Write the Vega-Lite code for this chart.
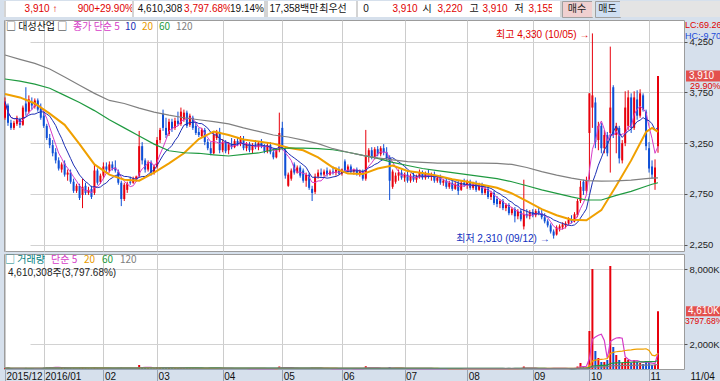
{
"$schema": "https://vega.github.io/schema/vega-lite/v6.json",
"padding": 0,
"background": "#d6e0ec",
"spacing": 1,
"config": {"view": {"fill": "white", "stroke": "#9c9c9c"}, "font": "Liberation Sans, Noto Sans CJK KR"},
"resolve": {"scale": {"color": "independent", "x": "independent", "y": "independent"}, "legend": {"color": "independent"}},
"datasets": {
"candles": [
{"d":"2015-12-11","o":3500,"h":3700,"l":3480,"c":3660,"v":60000},
{"d":"2015-12-14","o":3620,"h":3640,"l":3420,"c":3450,"v":70000},
{"d":"2015-12-15","o":3450,"h":3480,"l":3380,"c":3400,"v":50000},
{"d":"2015-12-16","o":3400,"h":3470,"l":3380,"c":3450,"v":45000},
{"d":"2015-12-17","o":3440,"h":3520,"l":3420,"c":3500,"v":55000},
{"d":"2015-12-18","o":3480,"h":3500,"l":3400,"c":3430,"v":40000},
{"d":"2015-12-21","o":3430,"h":3620,"l":3420,"c":3600,"v":65000},
{"d":"2015-12-22","o":3640,"h":3800,"l":3520,"c":3560,"v":90000},
{"d":"2015-12-23","o":3560,"h":3720,"l":3540,"c":3680,"v":60000},
{"d":"2015-12-24","o":3650,"h":3700,"l":3580,"c":3620,"v":45000},
{"d":"2015-12-28","o":3610,"h":3690,"l":3590,"c":3670,"v":40000},
{"d":"2015-12-29","o":3670,"h":3690,"l":3560,"c":3580,"v":45000},
{"d":"2015-12-30","o":3600,"h":3640,"l":3480,"c":3500,"v":50000},
{"d":"2016-01-04","o":3520,"h":3560,"l":3400,"c":3420,"v":110000},
{"d":"2016-01-05","o":3420,"h":3440,"l":3280,"c":3300,"v":130000},
{"d":"2016-01-06","o":3300,"h":3340,"l":3200,"c":3230,"v":150000},
{"d":"2016-01-07","o":3230,"h":3280,"l":3120,"c":3150,"v":140000},
{"d":"2016-01-08","o":3160,"h":3200,"l":3050,"c":3080,"v":120000},
{"d":"2016-01-11","o":3080,"h":3110,"l":2980,"c":3000,"v":110000},
{"d":"2016-01-12","o":2990,"h":3060,"l":2960,"c":3040,"v":90000},
{"d":"2016-01-13","o":3050,"h":3080,"l":2920,"c":2940,"v":80000},
{"d":"2016-01-14","o":2940,"h":2990,"l":2880,"c":2960,"v":70000},
{"d":"2016-01-15","o":2960,"h":2990,"l":2850,"c":2870,"v":80000},
{"d":"2016-01-18","o":2870,"h":2900,"l":2760,"c":2780,"v":90000},
{"d":"2016-01-19","o":2780,"h":2850,"l":2760,"c":2830,"v":60000},
{"d":"2016-01-20","o":2830,"h":2850,"l":2690,"c":2710,"v":100000},
{"d":"2016-01-21","o":2740,"h":2900,"l":2610,"c":2820,"v":130000},
{"d":"2016-01-22","o":2830,"h":2860,"l":2740,"c":2760,"v":70000},
{"d":"2016-01-25","o":2760,"h":2820,"l":2740,"c":2790,"v":50000},
{"d":"2016-01-26","o":2800,"h":2830,"l":2700,"c":2720,"v":60000},
{"d":"2016-01-27","o":2760,"h":3040,"l":2740,"c":2980,"v":120000},
{"d":"2016-01-28","o":2980,"h":3000,"l":2840,"c":2860,"v":80000},
{"d":"2016-01-29","o":2870,"h":2950,"l":2850,"c":2930,"v":60000},
{"d":"2016-02-01","o":2930,"h":3060,"l":2900,"c":3020,"v":70000},
{"d":"2016-02-02","o":3020,"h":3060,"l":2960,"c":2990,"v":50000},
{"d":"2016-02-03","o":2980,"h":3070,"l":2960,"c":3040,"v":55000},
{"d":"2016-02-04","o":3040,"h":3070,"l":2980,"c":3000,"v":45000},
{"d":"2016-02-05","o":3010,"h":3080,"l":2960,"c":2980,"v":50000},
{"d":"2016-02-11","o":2970,"h":2990,"l":2840,"c":2860,"v":90000},
{"d":"2016-02-12","o":2860,"h":2880,"l":2630,"c":2700,"v":110000},
{"d":"2016-02-15","o":2700,"h":2860,"l":2680,"c":2840,"v":70000},
{"d":"2016-02-16","o":2790,"h":2870,"l":2760,"c":2850,"v":50000},
{"d":"2016-02-17","o":2870,"h":2920,"l":2840,"c":2860,"v":40000},
{"d":"2016-02-18","o":2860,"h":2920,"l":2850,"c":2900,"v":40000},
{"d":"2016-02-19","o":2900,"h":2930,"l":2870,"c":2920,"v":45000},
{"d":"2016-02-22","o":2930,"h":3370,"l":2910,"c":3220,"v":320000},
{"d":"2016-02-23","o":3220,"h":3260,"l":3040,"c":3080,"v":150000},
{"d":"2016-02-24","o":3080,"h":3100,"l":2960,"c":2990,"v":90000},
{"d":"2016-02-25","o":2990,"h":3080,"l":2970,"c":3060,"v":60000},
{"d":"2016-02-26","o":3060,"h":3080,"l":2930,"c":2960,"v":50000},
{"d":"2016-02-29","o":2960,"h":3040,"l":2940,"c":3020,"v":45000},
{"d":"2016-03-02","o":3020,"h":3310,"l":3000,"c":3280,"v":150000},
{"d":"2016-03-03","o":3280,"h":3400,"l":3250,"c":3380,"v":130000},
{"d":"2016-03-04","o":3540,"h":3580,"l":3370,"c":3400,"v":140000},
{"d":"2016-03-07","o":3400,"h":3500,"l":3300,"c":3330,"v":90000},
{"d":"2016-03-08","o":3340,"h":3490,"l":3320,"c":3460,"v":80000},
{"d":"2016-03-09","o":3460,"h":3490,"l":3360,"c":3390,"v":60000},
{"d":"2016-03-10","o":3400,"h":3500,"l":3380,"c":3470,"v":60000},
{"d":"2016-03-11","o":3470,"h":3560,"l":3420,"c":3440,"v":70000},
{"d":"2016-03-14","o":3440,"h":3600,"l":3420,"c":3560,"v":110000},
{"d":"2016-03-15","o":3480,"h":3580,"l":3460,"c":3550,"v":80000},
{"d":"2016-03-16","o":3550,"h":3570,"l":3400,"c":3420,"v":70000},
{"d":"2016-03-17","o":3430,"h":3540,"l":3410,"c":3520,"v":60000},
{"d":"2016-03-18","o":3500,"h":3520,"l":3380,"c":3400,"v":60000},
{"d":"2016-03-21","o":3420,"h":3450,"l":3330,"c":3350,"v":50000},
{"d":"2016-03-22","o":3360,"h":3400,"l":3310,"c":3330,"v":45000},
{"d":"2016-03-23","o":3320,"h":3400,"l":3300,"c":3380,"v":40000},
{"d":"2016-03-24","o":3380,"h":3400,"l":3230,"c":3260,"v":55000},
{"d":"2016-03-25","o":3260,"h":3290,"l":3180,"c":3200,"v":60000},
{"d":"2016-03-28","o":3200,"h":3260,"l":3130,"c":3150,"v":50000},
{"d":"2016-03-29","o":3150,"h":3370,"l":3140,"c":3330,"v":70000},
{"d":"2016-03-30","o":3300,"h":3380,"l":3280,"c":3360,"v":50000},
{"d":"2016-03-31","o":3360,"h":3400,"l":3150,"c":3180,"v":70000},
{"d":"2016-04-01","o":3180,"h":3290,"l":3160,"c":3260,"v":45000},
{"d":"2016-04-04","o":3260,"h":3280,"l":3150,"c":3170,"v":40000},
{"d":"2016-04-05","o":3180,"h":3260,"l":3140,"c":3240,"v":40000},
{"d":"2016-04-06","o":3240,"h":3300,"l":3190,"c":3210,"v":35000},
{"d":"2016-04-07","o":3210,"h":3290,"l":3200,"c":3270,"v":40000},
{"d":"2016-04-08","o":3270,"h":3300,"l":3220,"c":3240,"v":35000},
{"d":"2016-04-11","o":3240,"h":3320,"l":3220,"c":3290,"v":45000},
{"d":"2016-04-12","o":3290,"h":3320,"l":3180,"c":3200,"v":40000},
{"d":"2016-04-14","o":3200,"h":3260,"l":3170,"c":3240,"v":35000},
{"d":"2016-04-15","o":3240,"h":3260,"l":3160,"c":3180,"v":35000},
{"d":"2016-04-18","o":3180,"h":3250,"l":3150,"c":3230,"v":30000},
{"d":"2016-04-19","o":3230,"h":3280,"l":3190,"c":3210,"v":30000},
{"d":"2016-04-20","o":3210,"h":3270,"l":3180,"c":3250,"v":35000},
{"d":"2016-04-21","o":3250,"h":3290,"l":3200,"c":3220,"v":30000},
{"d":"2016-04-22","o":3220,"h":3240,"l":3150,"c":3170,"v":35000},
{"d":"2016-04-25","o":3170,"h":3250,"l":3150,"c":3230,"v":30000},
{"d":"2016-04-26","o":3230,"h":3260,"l":3140,"c":3160,"v":35000},
{"d":"2016-04-27","o":3160,"h":3200,"l":3090,"c":3110,"v":40000},
{"d":"2016-04-28","o":3110,"h":3200,"l":3100,"c":3180,"v":35000},
{"d":"2016-04-29","o":3180,"h":3550,"l":3160,"c":3350,"v":200000},
{"d":"2016-05-02","o":3400,"h":3460,"l":3180,"c":3200,"v":120000},
{"d":"2016-05-03","o":3180,"h":3200,"l":2900,"c":2930,"v":130000},
{"d":"2016-05-04","o":2830,"h":2960,"l":2820,"c":2940,"v":80000},
{"d":"2016-05-09","o":2900,"h":3000,"l":2880,"c":2980,"v":60000},
{"d":"2016-05-10","o":3040,"h":3060,"l":2940,"c":2960,"v":50000},
{"d":"2016-05-11","o":2960,"h":3030,"l":2950,"c":3010,"v":45000},
{"d":"2016-05-12","o":3010,"h":3030,"l":2910,"c":2930,"v":50000},
{"d":"2016-05-13","o":2980,"h":3000,"l":2860,"c":2880,"v":55000},
{"d":"2016-05-16","o":2880,"h":2960,"l":2820,"c":2940,"v":50000},
{"d":"2016-05-17","o":2940,"h":2960,"l":2790,"c":2810,"v":70000},
{"d":"2016-05-18","o":2800,"h":2830,"l":2680,"c":2760,"v":90000},
{"d":"2016-05-19","o":2770,"h":2950,"l":2750,"c":2920,"v":80000},
{"d":"2016-05-20","o":2920,"h":2990,"l":2900,"c":2960,"v":50000},
{"d":"2016-05-23","o":2960,"h":3000,"l":2920,"c":2940,"v":40000},
{"d":"2016-05-24","o":2940,"h":2990,"l":2920,"c":2970,"v":35000},
{"d":"2016-05-25","o":2980,"h":3010,"l":2920,"c":2940,"v":40000},
{"d":"2016-05-26","o":2940,"h":2990,"l":2930,"c":2970,"v":35000},
{"d":"2016-05-27","o":2970,"h":3020,"l":2940,"c":2960,"v":35000},
{"d":"2016-05-30","o":2960,"h":3010,"l":2930,"c":2990,"v":30000},
{"d":"2016-05-31","o":2990,"h":3020,"l":2940,"c":2950,"v":35000},
{"d":"2016-06-01","o":2950,"h":3000,"l":2930,"c":2990,"v":35000},
{"d":"2016-06-02","o":3070,"h":3090,"l":2960,"c":2980,"v":50000},
{"d":"2016-06-03","o":2980,"h":3040,"l":2960,"c":3020,"v":35000},
{"d":"2016-06-07","o":3020,"h":3040,"l":2950,"c":2970,"v":35000},
{"d":"2016-06-08","o":2970,"h":3000,"l":2940,"c":2990,"v":30000},
{"d":"2016-06-09","o":2990,"h":3010,"l":2930,"c":2950,"v":30000},
{"d":"2016-06-10","o":2950,"h":2990,"l":2920,"c":2970,"v":30000},
{"d":"2016-06-13","o":2970,"h":2990,"l":2880,"c":2900,"v":40000},
{"d":"2016-06-14","o":2900,"h":3380,"l":2880,"c":3120,"v":220000},
{"d":"2016-06-15","o":3120,"h":3200,"l":3060,"c":3180,"v":100000},
{"d":"2016-06-16","o":3180,"h":3210,"l":3090,"c":3110,"v":70000},
{"d":"2016-06-17","o":3110,"h":3210,"l":3090,"c":3190,"v":60000},
{"d":"2016-06-20","o":3190,"h":3220,"l":3120,"c":3140,"v":50000},
{"d":"2016-06-21","o":3140,"h":3220,"l":3120,"c":3200,"v":50000},
{"d":"2016-06-22","o":3200,"h":3240,"l":3130,"c":3160,"v":55000},
{"d":"2016-06-23","o":3160,"h":3210,"l":3080,"c":3110,"v":50000},
{"d":"2016-06-24","o":3110,"h":3130,"l":2690,"c":2880,"v":150000},
{"d":"2016-06-27","o":2820,"h":2990,"l":2800,"c":2970,"v":80000},
{"d":"2016-06-28","o":2870,"h":2960,"l":2850,"c":2930,"v":50000},
{"d":"2016-06-29","o":2930,"h":2990,"l":2880,"c":2960,"v":40000},
{"d":"2016-06-30","o":2960,"h":2990,"l":2890,"c":2910,"v":35000},
{"d":"2016-07-01","o":2910,"h":2960,"l":2870,"c":2940,"v":30000},
{"d":"2016-07-04","o":2940,"h":2970,"l":2860,"c":2880,"v":30000},
{"d":"2016-07-05","o":2880,"h":2950,"l":2860,"c":2930,"v":30000},
{"d":"2016-07-06","o":2930,"h":2960,"l":2870,"c":2890,"v":30000},
{"d":"2016-07-07","o":2890,"h":2940,"l":2860,"c":2920,"v":25000},
{"d":"2016-07-08","o":2920,"h":2990,"l":2900,"c":2960,"v":35000},
{"d":"2016-07-11","o":2960,"h":2980,"l":2890,"c":2910,"v":30000},
{"d":"2016-07-12","o":2910,"h":2970,"l":2890,"c":2950,"v":30000},
{"d":"2016-07-13","o":2950,"h":2990,"l":2900,"c":2920,"v":30000},
{"d":"2016-07-14","o":2920,"h":2960,"l":2880,"c":2940,"v":25000},
{"d":"2016-07-15","o":2940,"h":2970,"l":2860,"c":2880,"v":30000},
{"d":"2016-07-18","o":2880,"h":2930,"l":2860,"c":2910,"v":25000},
{"d":"2016-07-19","o":2910,"h":2940,"l":2840,"c":2860,"v":30000},
{"d":"2016-07-20","o":2860,"h":2900,"l":2830,"c":2880,"v":25000},
{"d":"2016-07-21","o":2880,"h":2910,"l":2800,"c":2820,"v":30000},
{"d":"2016-07-22","o":2820,"h":2880,"l":2800,"c":2860,"v":25000},
{"d":"2016-07-25","o":2860,"h":2890,"l":2780,"c":2800,"v":35000},
{"d":"2016-07-26","o":2800,"h":2870,"l":2790,"c":2850,"v":30000},
{"d":"2016-07-27","o":2850,"h":2880,"l":2740,"c":2780,"v":40000},
{"d":"2016-07-28","o":2790,"h":2880,"l":2780,"c":2860,"v":35000},
{"d":"2016-07-29","o":2860,"h":2900,"l":2820,"c":2840,"v":30000},
{"d":"2016-08-01","o":2840,"h":2890,"l":2800,"c":2870,"v":30000},
{"d":"2016-08-02","o":2870,"h":2890,"l":2790,"c":2810,"v":30000},
{"d":"2016-08-03","o":2810,"h":2870,"l":2790,"c":2850,"v":25000},
{"d":"2016-08-04","o":2850,"h":2880,"l":2770,"c":2790,"v":30000},
{"d":"2016-08-05","o":2790,"h":2860,"l":2780,"c":2840,"v":25000},
{"d":"2016-08-08","o":2840,"h":2860,"l":2740,"c":2760,"v":35000},
{"d":"2016-08-09","o":2760,"h":2830,"l":2740,"c":2800,"v":30000},
{"d":"2016-08-10","o":2800,"h":2820,"l":2700,"c":2720,"v":40000},
{"d":"2016-08-11","o":2720,"h":2780,"l":2690,"c":2760,"v":30000},
{"d":"2016-08-12","o":2760,"h":2780,"l":2640,"c":2660,"v":45000},
{"d":"2016-08-16","o":2700,"h":2730,"l":2620,"c":2650,"v":40000},
{"d":"2016-08-17","o":2650,"h":2700,"l":2610,"c":2680,"v":30000},
{"d":"2016-08-18","o":2680,"h":2700,"l":2590,"c":2610,"v":40000},
{"d":"2016-08-19","o":2610,"h":2660,"l":2580,"c":2640,"v":30000},
{"d":"2016-08-22","o":2640,"h":2660,"l":2540,"c":2560,"v":40000},
{"d":"2016-08-23","o":2560,"h":2620,"l":2540,"c":2600,"v":30000},
{"d":"2016-08-24","o":2600,"h":2620,"l":2470,"c":2530,"v":45000},
{"d":"2016-08-25","o":2530,"h":2600,"l":2500,"c":2580,"v":35000},
{"d":"2016-08-26","o":2580,"h":2600,"l":2480,"c":2500,"v":40000},
{"d":"2016-08-29","o":2430,"h":2890,"l":2400,"c":2550,"v":200000},
{"d":"2016-08-30","o":2550,"h":2600,"l":2510,"c":2530,"v":60000},
{"d":"2016-08-31","o":2530,"h":2590,"l":2500,"c":2570,"v":40000},
{"d":"2016-09-01","o":2570,"h":2600,"l":2520,"c":2540,"v":35000},
{"d":"2016-09-02","o":2540,"h":2600,"l":2520,"c":2580,"v":30000},
{"d":"2016-09-05","o":2580,"h":2620,"l":2540,"c":2560,"v":30000},
{"d":"2016-09-06","o":2560,"h":2590,"l":2500,"c":2520,"v":35000},
{"d":"2016-09-07","o":2520,"h":2560,"l":2460,"c":2480,"v":40000},
{"d":"2016-09-08","o":2480,"h":2500,"l":2420,"c":2440,"v":45000},
{"d":"2016-09-09","o":2440,"h":2460,"l":2360,"c":2380,"v":50000},
{"d":"2016-09-12","o":2380,"h":2400,"l":2310,"c":2340,"v":60000},
{"d":"2016-09-13","o":2350,"h":2440,"l":2340,"c":2420,"v":50000},
{"d":"2016-09-19","o":2410,"h":2450,"l":2380,"c":2430,"v":35000},
{"d":"2016-09-20","o":2420,"h":2470,"l":2400,"c":2450,"v":35000},
{"d":"2016-09-21","o":2440,"h":2480,"l":2410,"c":2460,"v":35000},
{"d":"2016-09-22","o":2460,"h":2520,"l":2440,"c":2500,"v":45000},
{"d":"2016-09-23","o":2500,"h":2540,"l":2460,"c":2480,"v":40000},
{"d":"2016-09-26","o":2480,"h":2570,"l":2470,"c":2550,"v":60000},
{"d":"2016-09-27","o":2540,"h":2700,"l":2520,"c":2680,"v":200000},
{"d":"2016-09-28","o":2680,"h":2880,"l":2660,"c":2820,"v":480000},
{"d":"2016-09-29","o":2870,"h":2890,"l":2740,"c":2780,"v":200000},
{"d":"2016-09-30","o":2780,"h":2920,"l":2760,"c":2880,"v":150000},
{"d":"2016-10-04","o":3350,"h":3740,"l":2890,"c":3740,"v":3040000},
{"d":"2016-10-05","o":3600,"h":4330,"l":3400,"c":3720,"v":8000000},
{"d":"2016-10-06","o":3650,"h":3700,"l":3200,"c":3260,"v":1440000},
{"d":"2016-10-07","o":3280,"h":3460,"l":3180,"c":3420,"v":880000},
{"d":"2016-10-10","o":3420,"h":3450,"l":3150,"c":3200,"v":560000},
{"d":"2016-10-11","o":3200,"h":3380,"l":3150,"c":3330,"v":560000},
{"d":"2016-10-12","o":3330,"h":3360,"l":3120,"c":3150,"v":720000},
{"d":"2016-10-13","o":3350,"h":4200,"l":2960,"c":3600,"v":8240000},
{"d":"2016-10-14","o":3800,"h":3820,"l":3300,"c":3330,"v":1760000},
{"d":"2016-10-17","o":3330,"h":3450,"l":3150,"c":3420,"v":1120000},
{"d":"2016-10-18","o":3400,"h":3420,"l":3050,"c":3100,"v":720000},
{"d":"2016-10-19","o":3080,"h":3280,"l":3050,"c":3250,"v":480000},
{"d":"2016-10-20","o":3250,"h":3760,"l":3220,"c":3600,"v":880000},
{"d":"2016-10-21","o":3420,"h":3770,"l":3380,"c":3700,"v":720000},
{"d":"2016-10-24","o":3700,"h":3740,"l":3350,"c":3400,"v":480000},
{"d":"2016-10-25","o":3400,"h":3760,"l":3380,"c":3700,"v":720000},
{"d":"2016-10-26","o":3680,"h":3770,"l":3480,"c":3520,"v":560000},
{"d":"2016-10-27","o":3520,"h":3780,"l":3500,"c":3740,"v":480000},
{"d":"2016-10-28","o":3720,"h":3740,"l":3560,"c":3580,"v":400000},
{"d":"2016-10-31","o":3560,"h":3580,"l":3180,"c":3220,"v":640000},
{"d":"2016-11-01","o":3200,"h":3260,"l":2960,"c":3000,"v":480000},
{"d":"2016-11-02","o":3020,"h":3080,"l":2900,"c":2940,"v":320000},
{"d":"2016-11-03","o":2860,"h":3090,"l":2790,"c":3010,"v":350000},
{"d":"2016-11-04","o":3220,"h":3910,"l":3155,"c":3910,"v":4610308}
],
"ma": [
{"d":"2015-12-11","m20":3733,"m60":3881,"m120":4117},
{"d":"2015-12-18","m20":3700,"m60":3860,"m120":4075},
{"d":"2015-12-28","m20":3640,"m60":3830,"m120":4035},
{"d":"2016-01-06","m20":3540,"m60":3790,"m120":3980},
{"d":"2016-01-13","m20":3430,"m60":3720,"m120":3900},
{"d":"2016-01-20","m20":3240,"m60":3650,"m120":3820},
{"d":"2016-01-27","m20":3040,"m60":3570,"m120":3740},
{"d":"2016-02-03","m20":2940,"m60":3480,"m120":3670},
{"d":"2016-02-15","m20":2890,"m60":3400,"m120":3640},
{"d":"2016-02-22","m20":2880,"m60":3320,"m120":3595},
{"d":"2016-02-29","m20":2960,"m60":3240,"m120":3555},
{"d":"2016-03-08","m20":3050,"m60":3175,"m120":3525},
{"d":"2016-03-15","m20":3150,"m60":3155,"m120":3500},
{"d":"2016-03-22","m20":3290,"m60":3150,"m120":3480},
{"d":"2016-03-29","m20":3365,"m60":3135,"m120":3462},
{"d":"2016-04-05","m20":3330,"m60":3123,"m120":3440},
{"d":"2016-04-12","m20":3285,"m60":3140,"m120":3400},
{"d":"2016-04-20","m20":3265,"m60":3153,"m120":3365},
{"d":"2016-04-27","m20":3245,"m60":3185,"m120":3330},
{"d":"2016-05-04","m20":3205,"m60":3202,"m120":3310},
{"d":"2016-05-13","m20":3180,"m60":3200,"m120":3280},
{"d":"2016-05-20","m20":3110,"m60":3195,"m120":3245},
{"d":"2016-05-27","m20":3010,"m60":3185,"m120":3195},
{"d":"2016-06-03","m20":2950,"m60":3160,"m120":3160},
{"d":"2016-06-13","m20":2945,"m60":3130,"m120":3130},
{"d":"2016-06-20","m20":3000,"m60":3100,"m120":3105},
{"d":"2016-06-27","m20":3030,"m60":3060,"m120":3085},
{"d":"2016-07-04","m20":2975,"m60":3030,"m120":3068},
{"d":"2016-07-11","m20":2955,"m60":3000,"m120":3060},
{"d":"2016-07-18","m20":2930,"m60":2980,"m120":3054},
{"d":"2016-07-25","m20":2895,"m60":2960,"m120":3054},
{"d":"2016-08-01","m20":2870,"m60":2940,"m120":3054},
{"d":"2016-08-08","m20":2840,"m60":2920,"m120":3054},
{"d":"2016-08-16","m20":2810,"m60":2900,"m120":3050},
{"d":"2016-08-23","m20":2755,"m60":2870,"m120":3040},
{"d":"2016-08-30","m20":2680,"m60":2830,"m120":3010},
{"d":"2016-09-06","m20":2600,"m60":2790,"m120":2970},
{"d":"2016-09-13","m20":2540,"m60":2755,"m120":2935},
{"d":"2016-09-23","m20":2495,"m60":2720,"m120":2905},
{"d":"2016-09-30","m20":2490,"m60":2690,"m120":2880},
{"d":"2016-10-10","m20":2590,"m60":2690,"m120":2875},
{"d":"2016-10-17","m20":2830,"m60":2735,"m120":2878},
{"d":"2016-10-24","m20":3080,"m60":2775,"m120":2885},
{"d":"2016-10-31","m20":3360,"m60":2825,"m120":2900},
{"d":"2016-11-02","m20":3400,"m60":2845,"m120":2905},
{"d":"2016-11-04","m20":3360,"m60":2860,"m120":2907}
]
},
"vconcat": [
{
"hconcat": [
{"width":2,"height":16,"view":{"fill":"#d4d4d4","stroke":null},"data":{"values":[{"t":""}]},"mark":{"type":"text"},"encoding":{"text":{"field":"t"}}},
{"width":70,"height":16,"view":{"fill":"white","stroke":null},"data":{"values":[{"t":"3,910 ↑"}]},"mark":{"type":"text","color":"#e00000","fontSize":10},"encoding":{"text":{"field":"t"}}},
{"width":20,"height":16,"view":{"fill":"white","stroke":null},"data":{"values":[{"t":"900"}]},"mark":{"type":"text","color":"#e00000","fontSize":10},"encoding":{"text":{"field":"t"}}},
{"width":36,"height":16,"view":{"fill":"white","stroke":null},"data":{"values":[{"t":"+29.90%"}]},"mark":{"type":"text","color":"#e00000","fontSize":10},"encoding":{"text":{"field":"t"}}},
{"width":2,"height":16,"view":{"fill":"#d4d4d4","stroke":null},"data":{"values":[{"t":""}]},"mark":{"type":"text"},"encoding":{"text":{"field":"t"}}},
{"width":52,"height":16,"view":{"fill":"white","stroke":null},"data":{"values":[{"t":"4,610,308"}]},"mark":{"type":"text","color":"#111111","fontSize":10},"encoding":{"text":{"field":"t"}}},
{"width":44,"height":16,"view":{"fill":"white","stroke":null},"data":{"values":[{"t":"3,797.68%"}]},"mark":{"type":"text","color":"#e00000","fontSize":10},"encoding":{"text":{"field":"t"}}},
{"width":34,"height":16,"view":{"fill":"white","stroke":null},"data":{"values":[{"t":"19.14%"}]},"mark":{"type":"text","color":"#111111","fontSize":10},"encoding":{"text":{"field":"t"}}},
{"width":4,"height":16,"view":{"fill":"#d4d4d4","stroke":null},"data":{"values":[{"t":""}]},"mark":{"type":"text"},"encoding":{"text":{"field":"t"}}},
{"width":52,"height":16,"view":{"fill":"white","stroke":null},"data":{"values":[{"t":"17,358백만"}]},"mark":{"type":"text","color":"#111111","fontSize":10},"encoding":{"text":{"field":"t"}}},
{"width":26,"height":16,"view":{"fill":"white","stroke":null},"data":{"values":[{"t":"최우선"}]},"mark":{"type":"text","color":"#111111","fontSize":10},"encoding":{"text":{"field":"t"}}},
{"width":10,"height":16,"view":{"fill":"white","stroke":null},"data":{"values":[{"t":""}]},"mark":{"type":"text"},"encoding":{"text":{"field":"t"}}},
{"width":2,"height":16,"view":{"fill":"#d4d4d4","stroke":null},"data":{"values":[{"t":""}]},"mark":{"type":"text"},"encoding":{"text":{"field":"t"}}},
{"width":16,"height":16,"view":{"fill":"white","stroke":null},"data":{"values":[{"t":"0"}]},"mark":{"type":"text","color":"#111111","fontSize":10},"encoding":{"text":{"field":"t"}}},
{"width":16,"height":16,"view":{"fill":"white","stroke":null},"data":{"values":[{"t":""}]},"mark":{"type":"text"},"encoding":{"text":{"field":"t"}}},
{"width":30,"height":16,"view":{"fill":"white","stroke":null},"data":{"values":[{"t":"3,910"}]},"mark":{"type":"text","color":"#e00000","fontSize":10},"encoding":{"text":{"field":"t"}}},
{"width":14,"height":16,"view":{"fill":"white","stroke":null},"data":{"values":[{"t":"시"}]},"mark":{"type":"text","color":"#111111","fontSize":10},"encoding":{"text":{"field":"t"}}},
{"width":32,"height":16,"view":{"fill":"white","stroke":null},"data":{"values":[{"t":"3,220"}]},"mark":{"type":"text","color":"#e00000","fontSize":10},"encoding":{"text":{"field":"t"}}},
{"width":16,"height":16,"view":{"fill":"white","stroke":null},"data":{"values":[{"t":"고"}]},"mark":{"type":"text","color":"#111111","fontSize":10},"encoding":{"text":{"field":"t"}}},
{"width":26,"height":16,"view":{"fill":"white","stroke":null},"data":{"values":[{"t":"3,910"}]},"mark":{"type":"text","color":"#e00000","fontSize":10},"encoding":{"text":{"field":"t"}}},
{"width":22,"height":16,"view":{"fill":"white","stroke":null},"data":{"values":[{"t":"저"}]},"mark":{"type":"text","color":"#111111","fontSize":10},"encoding":{"text":{"field":"t"}}},
{"width":22,"height":16,"view":{"fill":"white","stroke":null},"data":{"values":[{"t":"3,155"}]},"mark":{"type":"text","color":"#e00000","fontSize":10},"encoding":{"text":{"field":"t"}}},
{"width":8,"height":16,"view":{"fill":"white","stroke":null},"data":{"values":[{"t":""}]},"mark":{"type":"text"},"encoding":{"text":{"field":"t"}}},
{"width":2,"height":16,"view":{"fill":"#d4d4d4","stroke":null},"data":{"values":[{"t":""}]},"mark":{"type":"text"},"encoding":{"text":{"field":"t"}}},
{"width":30,"height":16,"view":{"fill":"#f0d0d0","stroke":"#a0a0a0"},"data":{"values":[{"t":"매수"}]},"mark":{"type":"text","color":"#222222","fontSize":10},"encoding":{"text":{"field":"t"}}},
{"width":3,"height":16,"view":{"fill":"#e4e4e4","stroke":null},"data":{"values":[{"t":""}]},"mark":{"type":"text"},"encoding":{"text":{"field":"t"}}},
{"width":25,"height":16,"view":{"fill":"#cfdff2","stroke":"#a0a0a0"},"data":{"values":[{"t":"매도"}]},"mark":{"type":"text","color":"#222222","fontSize":10},"encoding":{"text":{"field":"t"}}},
{"width":104,"height":16,"view":{"fill":"#e4e4e4","stroke":null},"data":{"values":[{"t":""}]},"mark":{"type":"text"},"encoding":{"text":{"field":"t"}}}
],
"spacing": 0,
"bounds": "flush"
},
{
"width": 680,
"height": 231,
"encoding": {"x": {"field": "d", "type": "ordinal", "scale": {"type": "point", "range": [1, 654], "padding": 0},
 "axis": {"values": ["2015-12-11","2016-01-04","2016-02-01","2016-03-02","2016-04-01","2016-05-02","2016-06-01","2016-07-01","2016-08-01","2016-09-01","2016-10-04","2016-11-01"], "labels": false, "ticks": false, "domain": false, "grid": true, "gridColor": "#cccccc", "title": null}}},
"layer": [
{"data": {"name": "candles"}, "mark": {"type": "rule", "strokeWidth": 1},
 "encoding": {"y": {"field": "l", "type": "quantitative", "scale": {"domain": [2188, 4462], "nice": false, "zero": false},
   "axis": {"orient": "right", "values": [2250,2500,2750,3000,3250,3500,3750,4000,4250], "labelExpr": "format(datum.value, ',')", "tickSize": 3, "tickColor": "#555555", "labelPadding": 2, "labelFontSize": 9.5, "labelColor": "#222222", "domain": false, "grid": true, "gridColor": "#d2d2d2", "title": null}},
  "y2": {"field": "h"},
  "color": {"condition": {"test": "datum.c >= datum.o", "value": "#e8000c"}, "value": "#0e4fd6"}}},
{"data": {"name": "candles"}, "mark": {"type": "bar", "width": 2},
 "encoding": {"y": {"field": "o", "type": "quantitative"}, "y2": {"field": "c"},
  "color": {"condition": {"test": "datum.c >= datum.o", "value": "#e8000c"}, "value": "#0e4fd6"}}},
{"data": {"name": "candles"},
 "transform": [
  {"window": [{"op": "mean", "field": "c", "as": "m5"}], "frame": [-4, 0], "sort": [{"field": "d"}]},
  {"window": [{"op": "mean", "field": "c", "as": "m10"}], "frame": [-9, 0], "sort": [{"field": "d"}]},
  {"fold": ["m5", "m10"], "as": ["k", "val"]}],
 "mark": {"type": "line", "strokeWidth": 1},
 "encoding": {"y": {"field": "val", "type": "quantitative"},
  "color": {"field": "k", "type": "nominal",
   "scale": {"domain": ["m5","m10","m20","m60","m120"], "range": ["#d63cc8","#1c2fb5","#f0a000","#1f9a40","#808080"]},
   "legend": {"orient": "top-left", "offset": 2, "direction": "horizontal", "columns": 5, "title": "□ 대성산업 □", "titleOrient": "left", "titleFont": "Noto Sans CJK KR", "titleFontWeight": "normal", "titleFontSize": 10, "titleColor": "#111111", "titlePadding": 4, "symbolType": "circle", "symbolSize": 1, "symbolOpacity": 0, "symbolStrokeWidth": 0, "labelOffset": -9, "columnPadding": 4, "labelFont": "Noto Sans CJK KR", "labelFontSize": 10, "padding": 0, "labelLimit": 200,
    "labelExpr": "datum.label == 'm5' ? '종가 단순 5' : replace(datum.label, 'm', '')",
    "labelColor": {"expr": "datum.value == 'm5' ? '#d63cc8' : datum.value == 'm10' ? '#1c2fb5' : datum.value == 'm20' ? '#e89a00' : datum.value == 'm60' ? '#1f9a40' : '#808080'"}}}}},
{"data": {"name": "ma"},
 "transform": [{"fold": ["m20", "m60", "m120"], "as": ["k", "val"]}],
 "mark": {"type": "line"},
 "encoding": {"y": {"field": "val", "type": "quantitative"},
  "color": {"field": "k", "type": "nominal", "scale": {"domain": ["m5","m10","m20","m60","m120"], "range": ["#d63cc8","#1c2fb5","#f0a000","#1f9a40","#808080"]}},
  "strokeWidth": {"condition": {"test": "datum.k == 'm20'", "value": 2}, "value": 1.2}}},
{"data": {"values": [{"d": "2016-10-05", "p": 4330, "t": "최고 4,330 (10/05) →"}]},
 "mark": {"type": "text", "align": "right", "dx": -3, "dy": 2, "color": "#e00000", "fontSize": 10},
 "encoding": {"y": {"field": "p", "type": "quantitative"}, "text": {"field": "t"}}},
{"data": {"values": [{"d": "2016-09-12", "p": 2310, "t": "최저 2,310 (09/12) →"}]},
 "mark": {"type": "text", "align": "right", "dx": -4, "dy": 0, "color": "#1030c0", "fontSize": 10},
 "encoding": {"y": {"field": "p", "type": "quantitative"}, "text": {"field": "t"}}},
{"data": {"values": [{"p": 3910, "t": "3,910", "r": "29.90%"}]},
 "mark": {"type": "tick", "orient": "horizontal", "color": "#e8140c", "size": 38, "thickness": 11, "xOffset": 21},
 "encoding": {"x": {"value": "width"}, "y": {"field": "p", "type": "quantitative"}}},
{"data": {"values": [{"p": 3910, "t": "3,910", "r": "29.90%"}]},
 "mark": {"type": "text", "align": "left", "dx": 5, "color": "white", "fontSize": 10},
 "encoding": {"x": {"value": "width"}, "y": {"field": "p", "type": "quantitative"}, "text": {"field": "t"}}},
{"data": {"values": [{"p": 3910, "t": "3,910", "r": "29.90%"}]},
 "mark": {"type": "text", "align": "left", "dx": 6, "dy": 10, "color": "#e00000", "fontSize": 9},
 "encoding": {"x": {"value": "width"}, "y": {"field": "p", "type": "quantitative"}, "text": {"field": "r"}}},
{"data": {"values": [{"t": "LC:69.26"}]},
 "mark": {"type": "text", "align": "left", "baseline": "middle", "dx": 1, "dy": 5, "color": "#e00000", "fontSize": 9},
 "encoding": {"x": {"value": "width"}, "y": {"value": 0}, "text": {"field": "t"}}},
{"data": {"values": [{"t": "HC:-9.70"}]},
 "mark": {"type": "text", "align": "left", "baseline": "middle", "dx": 1, "dy": 16, "color": "#1c4cd8", "fontSize": 9},
 "encoding": {"x": {"value": "width"}, "y": {"value": 0}, "text": {"field": "t"}}}
]
},
{
"width": 680,
"height": 115,
"encoding": {"x": {"field": "d", "type": "ordinal", "scale": {"type": "point", "range": [1, 654], "padding": 0},
 "axis": {"values": ["2015-12-11","2016-01-04","2016-02-01","2016-03-02","2016-04-01","2016-05-02","2016-06-01","2016-07-01","2016-08-01","2016-09-01","2016-10-04","2016-11-01"],
  "labelExpr": "datum.value == '2015-12-11' ? '2015/12' : datum.value == '2016-01-04' ? '2016/01' : slice(datum.value, 5, 7)",
  "labelAlign": "left", "labelBaseline": "top", "labelPadding": -15, "labelOffset": 1, "labelAngle": 0, "labelOverlap": false, "labelBound": false, "labelFlush": false,
  "tickSize": 17, "tickColor": "#98a4b4", "domainColor": "#98a4b4", "labelColor": "#111111", "labelFontSize": 10,
  "grid": true, "gridColor": "#cccccc", "title": null}}},
"layer": [
{"data": {"name": "candles"}, "mark": {"type": "bar", "width": 2},
 "encoding": {"y": {"field": "v", "type": "quantitative", "scale": {"domain": [0, 9200000], "nice": false},
   "axis": {"orient": "right", "values": [2000000, 4000000, 6000000, 8000000], "labelExpr": "datum.value == 4000000 ? '' : format(datum.value / 1000, ',') + 'K'", "tickSize": 3, "tickColor": "#555555", "labelPadding": 2, "labelFontSize": 9.5, "labelColor": "#222222", "domain": false, "grid": true, "gridColor": "#d2d2d2",
    "title": "11/04", "titleAngle": 0, "titleAlign": "left", "titleBaseline": "top", "titleX": 6, "titleY": 117, "titleFontWeight": "normal", "titleFontSize": 10, "titleColor": "#111111"}},
  "color": {"condition": {"test": "datum.c >= datum.o", "value": "#e8000c"}, "value": "#0e4fd6"}}},
{"data": {"name": "candles"},
 "transform": [
  {"window": [{"op": "mean", "field": "v", "as": "v5"}], "frame": [-4, 0], "sort": [{"field": "d"}]},
  {"window": [{"op": "mean", "field": "v", "as": "v20"}], "frame": [-19, 0], "sort": [{"field": "d"}]},
  {"window": [{"op": "mean", "field": "v", "as": "v60"}], "frame": [-59, 0], "sort": [{"field": "d"}]},
  {"window": [{"op": "mean", "field": "v", "as": "v120"}], "frame": [-119, 0], "sort": [{"field": "d"}]},
  {"fold": ["v5", "v20", "v60", "v120"], "as": ["k", "val"]}],
 "mark": {"type": "line", "strokeWidth": 1.2},
 "encoding": {"y": {"field": "val", "type": "quantitative"},
  "color": {"field": "k", "type": "nominal",
   "scale": {"domain": ["v5","v20","v60","v120"], "range": ["#d63cc8","#f0a000","#1f9a40","#808080"]},
   "legend": {"orient": "top-left", "offset": 1, "direction": "horizontal", "columns": 4, "title": "□ 거래량", "titleOrient": "left", "titleFont": "Noto Sans CJK KR", "titleFontWeight": "normal", "titleFontSize": 10, "titleColor": "#008080", "titlePadding": 5, "symbolType": "circle", "symbolSize": 1, "symbolOpacity": 0, "symbolStrokeWidth": 0, "labelOffset": -9, "columnPadding": 5, "labelFont": "Noto Sans CJK KR", "labelFontSize": 10, "padding": 0, "labelLimit": 200,
    "labelExpr": "datum.label == 'v5' ? '단순 5' : replace(datum.label, 'v', '')",
    "labelColor": {"expr": "datum.value == 'v5' ? '#d63cc8' : datum.value == 'v20' ? '#e89a00' : datum.value == 'v60' ? '#1f9a40' : '#808080'"}}}}},
{"data": {"values": [{"v": 4610308, "t": "4,610K", "r": "3797.68%"}]},
 "mark": {"type": "tick", "orient": "horizontal", "color": "#e8140c", "size": 38, "thickness": 10, "xOffset": 21},
 "encoding": {"x": {"value": "width"}, "y": {"field": "v", "type": "quantitative"}}},
{"data": {"values": [{"v": 4610308, "t": "4,610K", "r": "3797.68%"}]},
 "mark": {"type": "text", "align": "left", "dx": 4, "color": "white", "fontSize": 10},
 "encoding": {"x": {"value": "width"}, "y": {"field": "v", "type": "quantitative"}, "text": {"field": "t"}}},
{"data": {"values": [{"v": 4610308, "t": "4,610K", "r": "3797.68%"}]},
 "mark": {"type": "text", "align": "left", "dx": 1, "dy": 10, "color": "#e00000", "fontSize": 8.5},
 "encoding": {"x": {"value": "width"}, "y": {"field": "v", "type": "quantitative"}, "text": {"field": "r"}}},
{"data": {"values": [{"t": "4,610,308주(3,797.68%)"}]},
 "mark": {"type": "text", "align": "left", "baseline": "middle", "dx": 4, "dy": 19, "color": "#222222", "fontSize": 10},
 "encoding": {"x": {"value": 0}, "y": {"value": 0}, "text": {"field": "t"}}}
]
}
]
}
